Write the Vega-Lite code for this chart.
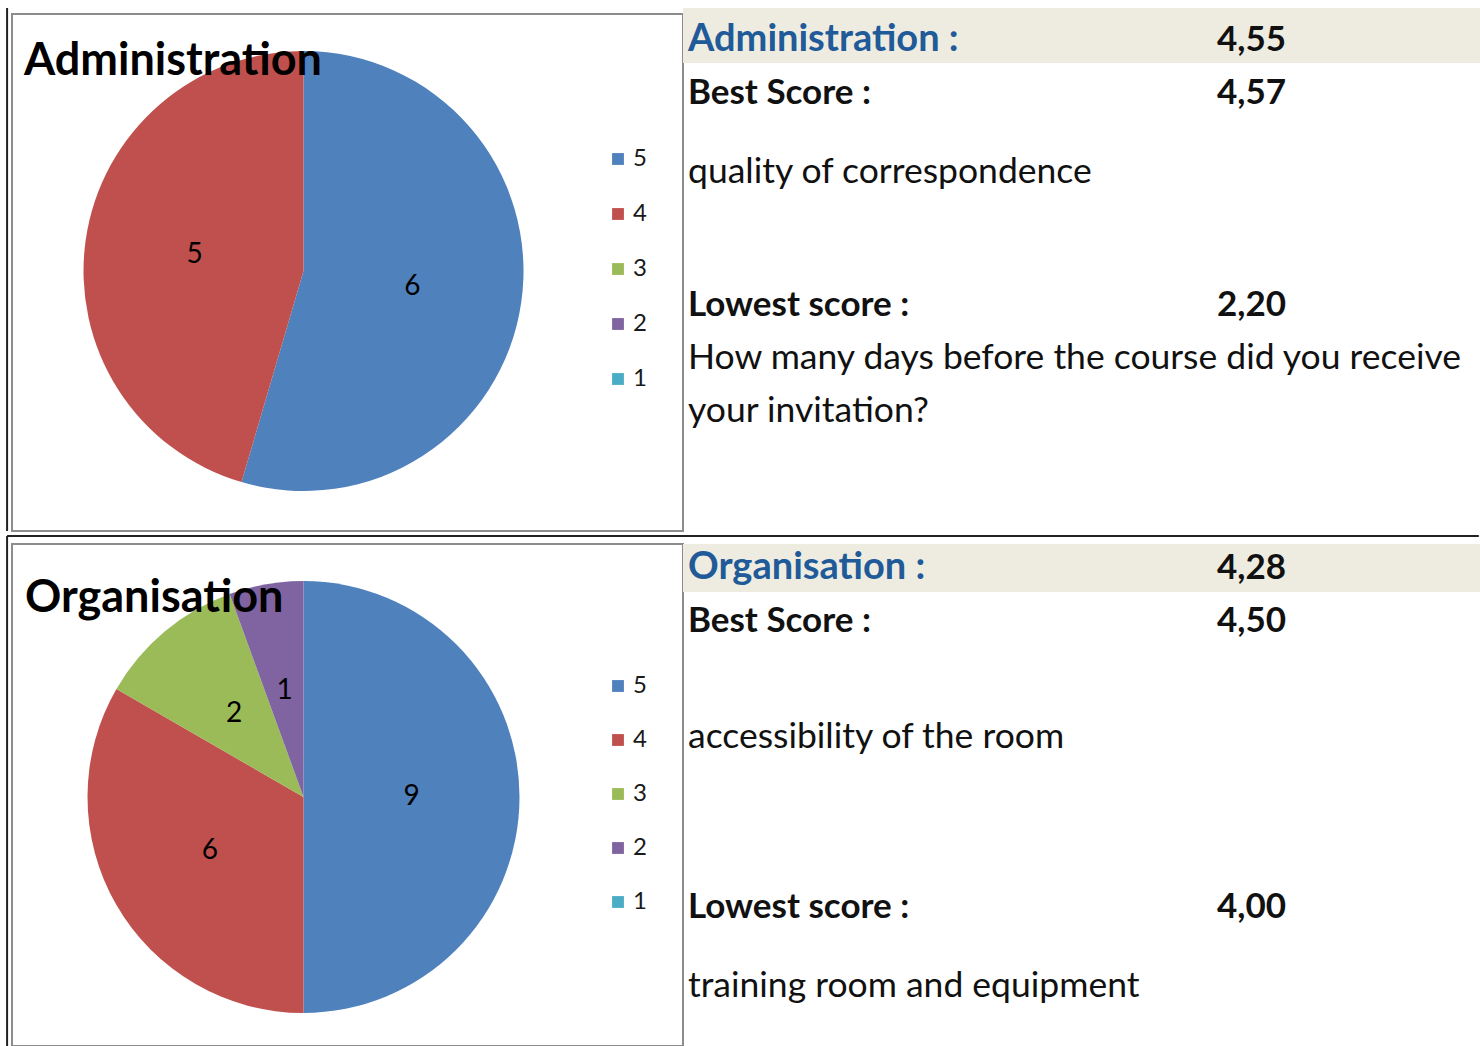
{
  "$schema": "https://vega.github.io/schema/vega-lite/v6.json",
  "padding": {"left": 6, "top": 6, "right": 0, "bottom": 0},
  "background": "white",
  "spacing": 3,
  "config": {"view": {"stroke": null}, "font": "Lato"},
  "resolve": {"scale": {"color": "independent", "theta": "independent", "x": "independent", "y": "independent"}, "legend": {"color": "independent"}},
  "vconcat": [
    {
      "hconcat": [
        {
          "width": 671,
          "height": 517,
          "view": {"stroke": "#8c8c8c", "strokeWidth": 2},
          "title": {"text": "Administration", "anchor": "start", "frame": "group", "dx": 12, "offset": -106, "baseline": "alphabetic", "fontSize": 45, "fontWeight": "bold", "color": "#000000"},
          "data": {"values": [{"score": 5, "n": 6}, {"score": 4, "n": 5}]},
          "encoding": {
            "theta": {"field": "n", "type": "quantitative", "stack": true},
            "order": {"field": "score", "type": "quantitative", "sort": "descending"}
          },
          "layer": [
            {
              "mark": {"type": "arc", "outerRadius": 220, "xOffset": -44, "yOffset": -1.5},
              "encoding": {
                "color": {"field": "score", "type": "nominal",
                  "scale": {"domain": [5, 4, 3, 2, 1], "range": ["#4F81BD", "#C0504D", "#9BBB59", "#8064A2", "#4BACC6"]},
                  "legend": {"orient": "none", "legendX": 594, "legendY": 133, "title": null, "symbolType": "square", "symbolSize": 140, "symbolStrokeWidth": 0, "labelFontSize": 24, "labelColor": "#1a1a1a", "rowPadding": 31, "labelOffset": 3}}
              }
            },
            {
              "mark": {"type": "text", "radius": 110, "xOffset": -44, "yOffset": -1.5, "fontSize": 28, "color": "#000000"},
              "encoding": {"text": {"field": "n", "type": "quantitative"}}
            }
          ]
        },
        {
          "width": 797,
          "height": 517,
          "data": {"values": [
            {"col": 0, "row": 1, "text": "Administration :", "kind": "head"},
            {"col": 4, "row": 1, "text": "4,55", "kind": "bold"},
            {"col": 0, "row": 2, "text": "Best Score :", "kind": "bold"},
            {"col": 4, "row": 2, "text": "4,57", "kind": "bold"},
            {"col": 0, "row": 3.5, "text": "quality of correspondence", "kind": "plain"},
            {"col": 0, "row": 6, "text": "Lowest score :", "kind": "bold"},
            {"col": 4, "row": 6, "text": "2,20", "kind": "bold"},
            {"col": 0, "row": 7, "text": "How many days before the course did you receive", "kind": "plain"},
            {"col": 0, "row": 8, "text": "your invitation?", "kind": "plain"}
          ]},
          "layer": [
            {
              "transform": [{"filter": "datum.kind === 'head'"}],
              "mark": {"type": "rect", "color": "#EEECE1"},
              "encoding": {
                "x": {"datum": -0.0378, "scale": {"domain": [-0.0378, 5.989], "nice": false, "zero": false}, "axis": null},
                "x2": {"datum": 5.989},
                "y": {"datum": 0.198, "scale": {"domain": [0.3113, 10.066], "reverse": true, "nice": false, "zero": false}, "axis": null},
                "y2": {"datum": 1.236}
              }
            },
            {
              "transform": [{"filter": "datum.kind === 'head'"}],
              "mark": {"type": "rule", "color": "#222222", "strokeWidth": 2},
              "encoding": {"x": {"datum": -5.149}, "y": {"datum": 0.198}, "y2": {"datum": 10.066}}
            },
            {
              "transform": [{"filter": "datum.kind === 'head'"}],
              "mark": {"type": "text", "align": "left", "baseline": "alphabetic", "fontSize": 38, "fontWeight": "bold", "color": "#215A98"},
              "encoding": {"x": {"field": "col", "type": "quantitative"}, "y": {"field": "row", "type": "quantitative"}, "text": {"field": "text"}}
            },
            {
              "transform": [{"filter": "datum.kind === 'bold'"}],
              "mark": {"type": "text", "align": "left", "baseline": "alphabetic", "fontSize": 35, "fontWeight": "bold", "color": "#111111"},
              "encoding": {"x": {"field": "col", "type": "quantitative"}, "y": {"field": "row", "type": "quantitative"}, "text": {"field": "text"}}
            },
            {
              "transform": [{"filter": "datum.kind === 'plain'"}],
              "mark": {"type": "text", "align": "left", "baseline": "alphabetic", "fontSize": 35.5, "color": "#111111"},
              "encoding": {"x": {"field": "col", "type": "quantitative"}, "y": {"field": "row", "type": "quantitative"}, "text": {"field": "text"}}
            }
          ]
        }
      ],
      "spacing": 0,
      "bounds": "flush",
      "resolve": {"scale": {"color": "independent", "theta": "independent", "x": "independent", "y": "independent"}, "legend": {"color": "independent"}}
    },
    {
      "hconcat": [
        {
          "width": 671,
          "height": 502,
          "view": {"stroke": "#8c8c8c", "strokeWidth": 2},
          "title": {"text": "Organisation", "anchor": "start", "frame": "group", "dx": 13, "offset": -113, "baseline": "alphabetic", "fontSize": 45, "fontWeight": "bold", "color": "#000000"},
          "data": {"values": [{"score": 5, "n": 9}, {"score": 4, "n": 6}, {"score": 3, "n": 2}, {"score": 2, "n": 1}]},
          "encoding": {
            "theta": {"field": "n", "type": "quantitative", "stack": true},
            "order": {"field": "score", "type": "quantitative", "sort": "descending"}
          },
          "layer": [
            {
              "mark": {"type": "arc", "outerRadius": 216, "xOffset": -44, "yOffset": 2},
              "encoding": {
                "color": {"field": "score", "type": "nominal",
                  "scale": {"domain": [5, 4, 3, 2, 1], "range": ["#4F81BD", "#C0504D", "#9BBB59", "#8064A2", "#4BACC6"]},
                  "legend": {"orient": "none", "legendX": 594, "legendY": 130, "title": null, "symbolType": "square", "symbolSize": 140, "symbolStrokeWidth": 0, "labelFontSize": 24, "labelColor": "#1a1a1a", "rowPadding": 30, "labelOffset": 3}}
              }
            },
            {
              "mark": {"type": "text", "radius": 108, "xOffset": -44, "yOffset": 2, "fontSize": 28, "color": "#000000"},
              "encoding": {"text": {"field": "n", "type": "quantitative"}}
            }
          ]
        },
        {
          "width": 797,
          "height": 502,
          "data": {"values": [
            {"col": 0, "row": 1, "text": "Organisation :", "kind": "head"},
            {"col": 4, "row": 1, "text": "4,28", "kind": "bold"},
            {"col": 0, "row": 2, "text": "Best Score :", "kind": "bold"},
            {"col": 4, "row": 2, "text": "4,50", "kind": "bold"},
            {"col": 0, "row": 4.19, "text": "accessibility of the room", "kind": "plain"},
            {"col": 0, "row": 7.4, "text": "Lowest score :", "kind": "bold"},
            {"col": 4, "row": 7.4, "text": "4,00", "kind": "bold"},
            {"col": 0, "row": 8.89, "text": "training room and equipment", "kind": "plain"}
          ]},
          "layer": [
            {
              "transform": [{"filter": "datum.kind === 'head'"}],
              "mark": {"type": "rect", "color": "#EEECE1"},
              "encoding": {
                "x": {"datum": -0.0378, "scale": {"domain": [-0.0378, 5.989], "nice": false, "zero": false}, "axis": null},
                "x2": {"datum": 5.989},
                "y": {"datum": 0.3396, "scale": {"domain": [0.3396, 9.811], "reverse": true, "nice": false, "zero": false}, "axis": null},
                "y2": {"datum": 1.2453}
              }
            },
            {
              "transform": [{"filter": "datum.kind === 'head'"}],
              "mark": {"type": "rule", "color": "#222222", "strokeWidth": 2},
              "encoding": {"x": {"datum": -5.149}, "x2": {"datum": 5.98}, "y": {"datum": 0.1887}}
            },
            {
              "transform": [{"filter": "datum.kind === 'head'"}],
              "mark": {"type": "rule", "color": "#222222", "strokeWidth": 2},
              "encoding": {"x": {"datum": -5.149}, "y": {"datum": 0.1887}, "y2": {"datum": 9.811}}
            },
            {
              "transform": [{"filter": "datum.kind === 'head'"}],
              "mark": {"type": "text", "align": "left", "baseline": "alphabetic", "fontSize": 38, "fontWeight": "bold", "color": "#215A98"},
              "encoding": {"x": {"field": "col", "type": "quantitative"}, "y": {"field": "row", "type": "quantitative"}, "text": {"field": "text"}}
            },
            {
              "transform": [{"filter": "datum.kind === 'bold'"}],
              "mark": {"type": "text", "align": "left", "baseline": "alphabetic", "fontSize": 35, "fontWeight": "bold", "color": "#111111"},
              "encoding": {"x": {"field": "col", "type": "quantitative"}, "y": {"field": "row", "type": "quantitative"}, "text": {"field": "text"}}
            },
            {
              "transform": [{"filter": "datum.kind === 'plain'"}],
              "mark": {"type": "text", "align": "left", "baseline": "alphabetic", "fontSize": 35.5, "color": "#111111"},
              "encoding": {"x": {"field": "col", "type": "quantitative"}, "y": {"field": "row", "type": "quantitative"}, "text": {"field": "text"}}
            }
          ]
        }
      ],
      "spacing": 0,
      "bounds": "flush",
      "resolve": {"scale": {"color": "independent", "theta": "independent", "x": "independent", "y": "independent"}, "legend": {"color": "independent"}}
    }
  ]
}
